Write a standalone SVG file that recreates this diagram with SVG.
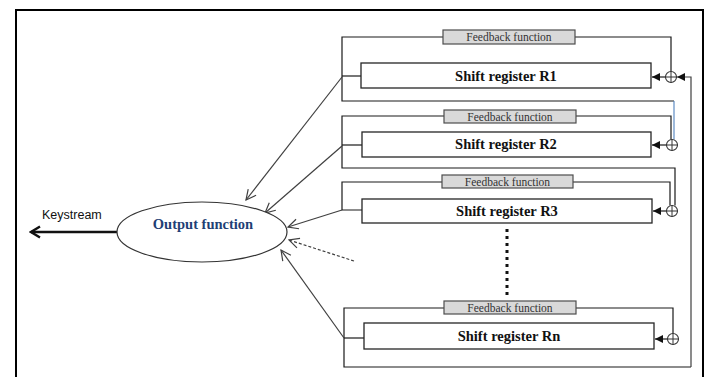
<svg xmlns="http://www.w3.org/2000/svg" width="710" height="377" viewBox="0 0 710 377">
<defs>
<style>
.ln{fill:none;stroke:#404040;stroke-width:1.2}
.blk{fill:none;stroke:#1a1a1a;stroke-width:1.2}
.fb{fill:#d9d9d9;stroke:#4d4d4d;stroke-width:1.2}
.reg{fill:#fff;stroke:#262626;stroke-width:1.3}
.fbt{font-family:"Liberation Serif",serif;font-size:11.5px;fill:#333;text-anchor:middle}
.rt{font-family:"Liberation Serif",serif;font-size:14.5px;font-weight:bold;fill:#111;text-anchor:middle}
.xor{fill:#fff;stroke:#333;stroke-width:1.1}
.arr{fill:none;stroke:#404040;stroke-width:1.2}
</style>
<marker id="fa" viewBox="0 0 10 10" refX="10" refY="5" markerWidth="8" markerHeight="8" orient="auto" markerUnits="userSpaceOnUse"><path d="M0,0 L10,5 L0,10 z" fill="#111"/></marker>
<marker id="oa" viewBox="0 0 12 12" refX="11" refY="6" markerWidth="12" markerHeight="12" orient="auto" markerUnits="userSpaceOnUse"><path d="M1,1 L11,6 L1,11" fill="none" stroke="#404040" stroke-width="1.2"/></marker>
<marker id="ka" viewBox="0 0 14 14" refX="12" refY="7" markerWidth="14" markerHeight="14" orient="auto" markerUnits="userSpaceOnUse"><path d="M3,1.5 L12,7 L3,12.5" fill="none" stroke="#111" stroke-width="2.4"/></marker>
</defs>
<rect width="710" height="377" fill="#fff"/>
<path d="M16,377 V10 H703 V377" fill="none" stroke="#000" stroke-width="2"/>

<g id="connectors">
<polyline class="blk" points="443,37 342,37 342,101 674,101"/>
<line x1="674" y1="101" x2="674" y2="139.5" stroke="#4f81bd" stroke-width="1.1"/>
<polyline class="blk" points="575,37 671,37 671,71.5"/>
<line class="blk" x1="342" y1="76" x2="361" y2="76"/>
<line class="blk" x1="665.5" y1="77" x2="652" y2="77" marker-end="url(#fa)"/>
<polyline class="blk" points="444,116 342,116 342,168 675,168 675,205.5"/>
<polyline class="blk" points="576,116 671,116 671,139.5"/>
<line class="blk" x1="342" y1="145" x2="362" y2="145"/>
<line class="blk" x1="666.5" y1="145" x2="652" y2="145" marker-end="url(#fa)"/>
<polyline class="blk" points="442,182 342,182 342,210 362,210"/>
<polyline class="blk" points="573,182 670,182 670,205.5"/>
<line class="blk" x1="666.5" y1="211" x2="653" y2="211" marker-end="url(#fa)"/>
<polyline class="blk" points="444,308 344,308 344,367 691,367"/>
<polyline class="ln" points="691,367 691,77 677,77" marker-end="url(#fa)"/>
<polyline class="blk" points="576,308 673,308 673,333.5"/>
<line class="blk" x1="344" y1="338" x2="364" y2="338"/>
<line class="blk" x1="667.5" y1="339" x2="655" y2="339" marker-end="url(#fa)"/>
<line x1="507" y1="229" x2="507" y2="297" stroke="#111" stroke-width="3" stroke-dasharray="3,4"/>
<line class="arr" x1="342" y1="77" x2="246" y2="200" marker-end="url(#oa)"/>
<line class="arr" x1="342" y1="146" x2="265" y2="213" marker-end="url(#oa)"/>
<line class="arr" x1="342" y1="210" x2="288" y2="227" marker-end="url(#oa)"/>
<line class="arr" x1="354" y1="261" x2="289" y2="240" stroke-dasharray="3,2" marker-end="url(#oa)"/>
<line class="arr" x1="344" y1="338" x2="281" y2="250" marker-end="url(#oa)"/>
<line x1="117" y1="232" x2="31" y2="232" stroke="#111" stroke-width="2.4" marker-end="url(#ka)"/>
</g>

<g id="fb1"><rect class="fb" x="443" y="30" width="132" height="14"/><text class="fbt" x="509" y="41">Feedback function</text></g>
<g id="r1"><rect class="reg" x="361" y="63" width="290" height="25"/><text class="rt" x="506" y="81">Shift register R1</text></g>
<g id="x1"><circle class="xor" cx="671" cy="77" r="5.5"/><path d="M665.5,77 H676.5 M671,71.5 V82.5" stroke="#333" stroke-width="1"/></g>

<g id="fb2"><rect class="fb" x="444" y="110" width="132" height="13"/><text class="fbt" x="510" y="120.5">Feedback function</text></g>
<g id="r2"><rect class="reg" x="362" y="132" width="289" height="25"/><text class="rt" x="506" y="149">Shift register R2</text></g>
<g id="x2"><circle class="xor" cx="672" cy="145" r="5.5"/><path d="M666.5,145 H677.5 M672,139.5 V150.5" stroke="#333" stroke-width="1"/></g>

<g id="fb3"><rect class="fb" x="442" y="175" width="131" height="13"/><text class="fbt" x="507.5" y="185.5">Feedback function</text></g>
<g id="r3"><rect class="reg" x="362" y="199" width="290" height="24"/><text class="rt" x="507" y="215.5">Shift register R3</text></g>
<g id="x3"><circle class="xor" cx="672" cy="211" r="5.5"/><path d="M666.5,211 H677.5 M672,205.5 V216.5" stroke="#333" stroke-width="1"/></g>

<g id="fbn"><rect class="fb" x="444" y="301" width="132" height="13"/><text class="fbt" x="510" y="311.5">Feedback function</text></g>
<g id="rn"><rect class="reg" x="364" y="323" width="290" height="26"/><text class="rt" x="509" y="341">Shift register Rn</text></g>
<g id="xn"><circle class="xor" cx="673" cy="339" r="5.5"/><path d="M667.5,339 H678.5 M673,333.5 V344.5" stroke="#333" stroke-width="1"/></g>

<g id="output"><ellipse cx="202" cy="232" rx="85" ry="30" fill="#fff" stroke="#333" stroke-width="1.2"/><text x="203" y="229" font-family="Liberation Serif, serif" font-size="14.5" font-weight="bold" fill="#1f3f75" text-anchor="middle">Output function</text></g>
<g id="keystream"><text x="42" y="219" font-family="Liberation Sans, sans-serif" font-size="12.5" fill="#111">Keystream</text></g>
</svg>
